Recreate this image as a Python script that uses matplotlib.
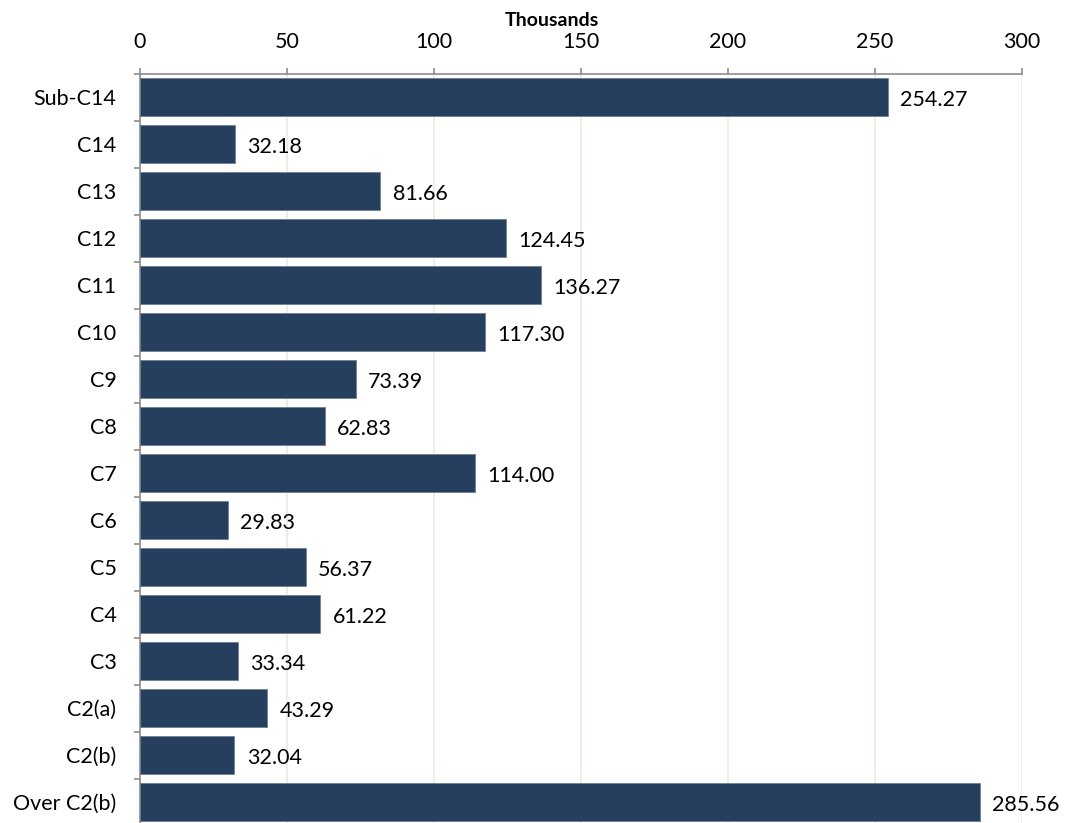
import matplotlib
matplotlib.use("Agg")
import matplotlib.pyplot as plt
import numpy as np

categories = ["Sub-C14", "C14", "C13", "C12", "C11", "C10", "C9", "C8", "C7",
              "C6", "C5", "C4", "C3", "C2(a)", "C2(b)", "Over C2(b)"]
values = [254.27, 32.18, 81.66, 124.45, 136.27, 117.30, 73.39, 62.83, 114.00,
          29.83, 56.37, 61.22, 33.34, 43.29, 32.04, 285.56]
xticks = [0, 50, 100, 150, 200, 250, 300]

plt.rcParams['font.family'] = ['Lato', 'DejaVu Sans']

fig = plt.figure(figsize=(10.74, 8.23), dpi=100)
W, H = 1074.0, 823.0
ax = fig.add_axes([140 / W, -2.5 / H, 882 / W, 752 / H])

pos = np.arange(len(categories))
ax.barh(pos, values, height=0.8, color='#273F5F', edgecolor='#6E7F95',
        linewidth=0.6, zorder=3)

for p, v in zip(pos, values):
    ax.annotate("%.2f" % v, (v, p), xytext=(9, -2), textcoords='offset points',
                va='center', ha='left', fontsize=15.5, color='black')

ax.set_ylim(len(categories) - 0.5, -0.5)
ax.set_xlim(0, 300)
ax.set_yticks(pos)
ax.set_yticklabels(categories, fontsize=15.5)
ax.set_yticks(np.arange(-0.5, len(categories), 1), minor=True)
ax.tick_params(axis='y', which='major', length=0, pad=17)
ax.tick_params(axis='y', which='minor', length=4.3, color='#8C8C8C', width=1.2)

ax.xaxis.tick_top()
ax.set_xticks(xticks)
ax.tick_params(axis='x', length=4.3, color='#8C8C8C', width=1.2, labelsize=15.5, pad=11)
fig.text(552 / W, 1 - 20 / H, 'Thousands', fontsize=14, fontweight='bold',
         ha='center', va='center')

ax.grid(axis='x', color='#EEEBDD', linewidth=1.2, zorder=0)
for s in ['right', 'bottom']:
    ax.spines[s].set_visible(False)
ax.spines['top'].set_color('#8C8C8C')
ax.spines['left'].set_color('#8C8C8C')
ax.spines['top'].set_linewidth(1.2)
ax.spines['left'].set_linewidth(1.2)

fig.savefig('out.png', dpi=100)
